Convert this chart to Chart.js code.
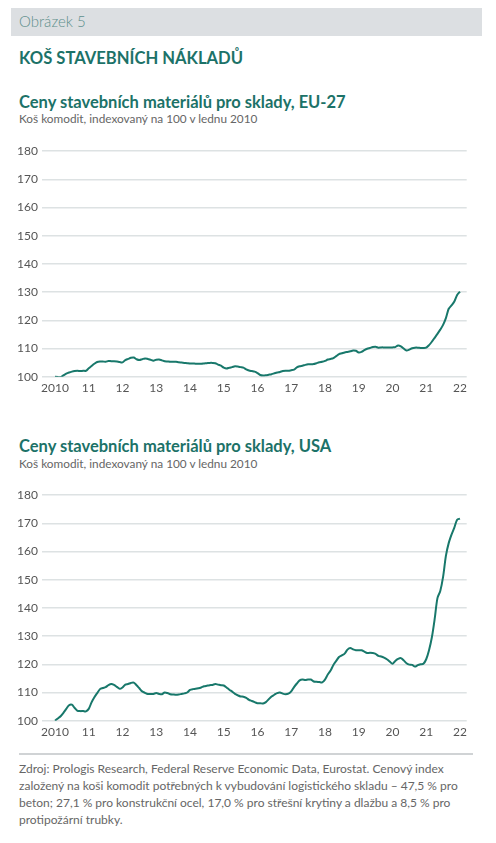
<!DOCTYPE html>
<html><head><meta charset="utf-8">
<script src="https://cdn.jsdelivr.net/npm/chart.js@4/dist/chart.umd.min.js"></script>
<style>
body{margin:0;background:#fff;width:496px;height:843px;position:relative;overflow:hidden;font-family:Lato,sans-serif}
.t{position:absolute;left:19px;white-space:nowrap;line-height:1}
.box{position:absolute;left:0;width:496px;height:260px}
</style></head><body>
<div style="position:absolute;left:11px;top:8px;width:471px;height:28px;background:#dcdfe2"></div>
<div class="t" style="top:14px;font-size:15px;font-weight:300;color:#5e8f8c">Obrázek 5</div>
<div class="t" style="top:50px;font-size:16.6px;font-weight:700;color:#1c7268">KOŠ STAVEBNÍCH NÁKLADŮ</div>
<div class="t" style="top:94px;font-size:16.5px;font-weight:700;color:#1c7268">Ceny stavebních materiálů pro sklady, EU-27</div>
<div class="t" style="top:113px;font-size:11.8px;color:#666">Koš komodit, indexovaný na 100 v lednu 2010</div>
<div class="box" style="top:140px"><canvas id="c1"></canvas></div>
<div class="t" style="top:438px;font-size:16.5px;font-weight:700;color:#1c7268">Ceny stavebních materiálů pro sklady, USA</div>
<div class="t" style="top:458px;font-size:11.8px;color:#666">Koš komodit, indexovaný na 100 v lednu 2010</div>
<div class="box" style="top:484px"><canvas id="c2"></canvas></div>
<div style="position:absolute;left:19px;top:753px;width:454px;height:1.5px;background:#d0d3d5"></div>
<div class="t" style="top:760px;font-size:12px;line-height:17px;color:#666">Zdroj: Prologis Research, Federal Reserve Economic Data, Eurostat. Cenový index<br>založený na koši komodit potřebných k vybudování logistického skladu – 47,5 % pro<br>beton; 27,1 % pro konstrukční ocel, 17,0 % pro střešní krytiny a dlažbu a 8,5 % pro<br>protipožární trubky.</div>
<script>
const startYear = 2010;
const tickYears = [2010,2011,2012,2013,2014,2015,2016,2017,2018,2019,2020,2021,2022];
const tickLabels = ["2010","11","12","13","14","15","16","17","18","19","20","21","22"];
const yTicks = [100,110,120,130,140,150,160,170,180];
// monthly index values, Jan 2010 – Jan 2022
const eu27Values = [
100,99.9,99.8,100.5,101.1,101.5,101.8,102,102.1,102,102.1,102.1,
103,103.8,104.6,105.2,105.4,105.4,105.3,105.6,105.5,105.5,105.4,105.2,
105.1,105.9,106.3,106.7,106.8,106.2,105.9,106.2,106.5,106.3,106,105.7,
106,106.1,105.8,105.5,105.4,105.3,105.3,105.3,105.1,105,104.9,104.8,
104.7,104.7,104.6,104.6,104.6,104.7,104.8,104.9,104.9,104.8,104.3,103.9,
103.2,102.9,103.2,103.4,103.7,103.6,103.4,103.2,102.6,102.2,102,101.8,
101.3,100.6,100.4,100.5,100.7,100.9,101.2,101.5,101.7,102,102.1,102.1,
102.3,102.5,103.3,103.7,103.9,104.2,104.4,104.4,104.5,104.8,105.1,105.3,
105.6,106.1,106.3,106.6,107.3,108,108.3,108.6,108.8,109,109.3,109.2,
108.6,108.8,109.4,109.9,110.2,110.5,110.6,110.3,110.4,110.4,110.4,110.4,
110.4,110.5,111.1,110.8,110,109.3,109.6,110.1,110.3,110.3,110.2,110.2,
110.3,111.2,112.4,113.8,115.2,116.7,118.4,120.8,124.1,125.3,126.7,129,
130.2];
const usaValues = [
100,100.8,101.6,102.8,104.2,105.5,105.7,104.5,103.5,103.4,103.4,103.3,
104.2,106.5,108.3,109.8,111.2,111.6,111.9,112.6,113,112.7,112,111.3,
111.8,112.8,113,113.4,113.5,112.6,111.5,110.4,109.9,109.5,109.5,109.5,
109.8,109.5,109.4,110,109.8,109.4,109.3,109.2,109.3,109.5,109.7,110,
110.9,111.2,111.3,111.5,111.8,112.2,112.4,112.6,112.7,113,112.8,112.6,
112.5,111.8,111,110.3,109.5,109,108.6,108.5,108.1,107.4,107,106.6,
106.2,106.2,106.1,106.6,107.6,108.6,109.2,109.8,110,109.6,109.4,109.6,
110.4,111.9,113.2,114.3,114.6,114.4,114.6,114.6,113.9,113.8,113.7,113.6,
114.6,116.4,117.8,119.8,121.2,122.6,123.2,123.8,125.2,125.8,125.3,125,
125,125,124.5,124,124.1,124,123.7,123,122.8,122.4,121.8,121,
120.2,121.2,121.9,122.2,121.4,120.4,119.9,119.8,119.2,119.7,120,120.2,
121.8,125,129.5,136,143.5,146,151,158.5,163,166,168.5,171.3,
171.7];

const lineColor = '#18786b';
const gridColor = '#dde2e3';
const tickColor = '#555';

function makeChart(id, values){
  const pts = values.map((v,i)=>({x: startYear + i/12, y: v}));
  return new Chart(document.getElementById(id), {
    type:'line',
    data:{datasets:[{data:pts, borderColor:lineColor, borderWidth:2, pointRadius:0, tension:0.3, fill:false}]},
    options:{
      responsive:true, maintainAspectRatio:false, animation:false,
      layout:{padding:{top:10,right:29.3,bottom:3.3,left:0}},
      plugins:{legend:{display:false},tooltip:{enabled:false}},
      scales:{
        x:{type:'linear', min:2009.615, max:2022.2,
          grid:{display:false, drawTicks:false}, border:{display:false},
          afterBuildTicks:s=>{s.ticks = tickYears.map(v=>({value:v}));},
          afterFit:s=>{s.height=20;},
          ticks:{autoSkip:false, maxRotation:0, padding:4, color:tickColor, font:{family:'Lato', size:12},
            callback:(v)=>{const k=tickYears.indexOf(v); return k>=0?tickLabels[k]:'';}}},
        y:{min:100, max:180,
          afterBuildTicks:s=>{s.ticks = yTicks.map(v=>({value:v}));},
          afterFit:s=>{s.width=42;},
          border:{display:false},
          grid:{color:gridColor, lineWidth:1.5, drawTicks:false},
          ticks:{padding:4, color:tickColor, font:{family:'Lato', size:12}}}
      }
    }
  });
}
makeChart('c1', eu27Values);
makeChart('c2', usaValues);
</script>
</body></html>
